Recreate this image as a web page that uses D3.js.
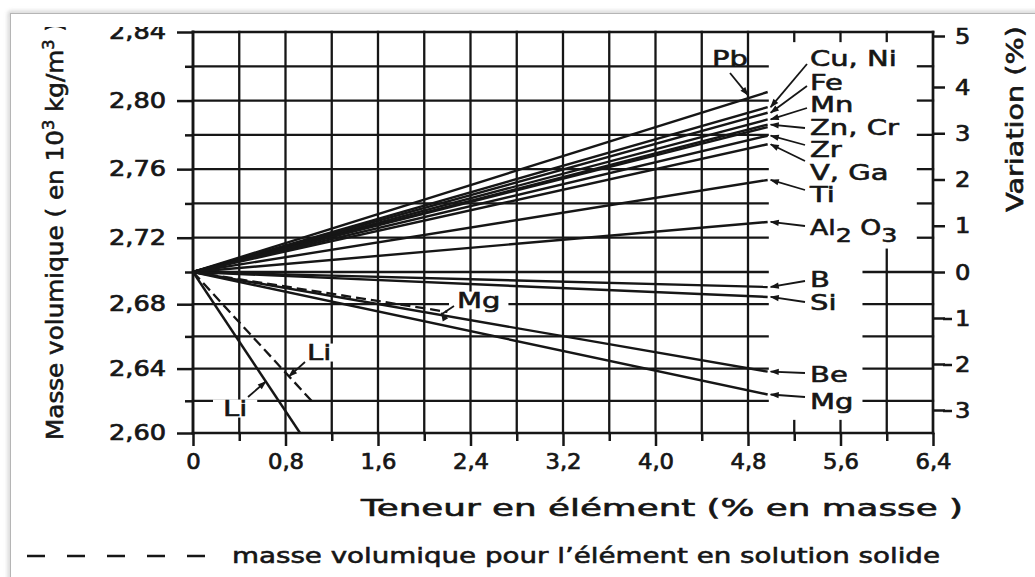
<!DOCTYPE html>
<html><head><meta charset="utf-8">
<script src="https://cdn.jsdelivr.net/npm/d3@7"></script>
<style>
body{margin:0;background:#fff}
svg{display:block}
text{font-family:"DejaVu Sans",sans-serif;fill:#161616}
</style>
</head><body>
<svg id="c" width="1035" height="577"></svg>
<script>
// ---------- data ----------
const xTicks = [0, 0.8, 1.6, 2.4, 3.2, 4.0, 4.8, 5.6, 6.4];
const xTickLabels = ["0", "0,8", "1,6", "2,4", "3,2", "4,0", "4,8", "5,6", "6,4"];
const xMinorTicks = [0.4, 1.2, 2.0, 2.8, 3.6, 4.4, 5.2, 6.0];
const yTicks = [2.60, 2.64, 2.68, 2.72, 2.76, 2.80, 2.84];
const yTickLabels = ["2,60", "2,64", "2,68", "2,72", "2,76", "2,80", "2,84"];
const yMinorTicks = [2.62, 2.66, 2.70, 2.74, 2.78, 2.82];
const rightTicks = [-3, -2, -1, 0, 1, 2, 3, 4, 5];
const rightTickLabels = ["3", "2", "1", "0", "1", "2", "3", "4", "5"];

// solid lines: density of the alloy (start at 0 % / 2,70)
const solidNames = ["Pb", "Cu, Ni", "Fe", "Mn", "Zn", "Cr", "Zr", "V, Ga", "Ti", "Al2O3", "B", "Si", "Be", "Mg", "Li"];
const solidXEnd = [4.97, 4.97, 4.97, 4.97, 4.97, 4.97, 4.97, 4.97, 4.97, 4.97, 4.97, 4.97, 4.97, 4.97, 0.926];
const solidDensityEnd = [2.805, 2.7962, 2.7929, 2.789, 2.786, 2.7845, 2.7795, 2.7745, 2.7537, 2.7292, 2.6907, 2.6845, 2.6381, 2.6239, 2.600];
// dashed lines: element in solid solution
const dashedNames = ["Mg", "Li"];
const dashedXEnd = [2.2, 1.03];
const dashedDensityEnd = [2.6752, 2.6196];
const startX = 0, startDensity = 2.70;
const gridEnd = 4.97;

// ---------- scales ----------
const svg = d3.select("#c");
const x = d3.scaleLinear().domain([0, 6.4]).range([193, 933]);
const y = d3.scaleLinear().domain([2.60, 2.70, 2.84]).range([433, 272, 32]);
const yR = d3.scaleLinear().domain([-3, 0, 4, 5]).range([410, 272, 87, 36]);

// outer frame of the picture
const defs = svg.append("defs");
const f = defs.append("filter").attr("id", "sh").attr("x", "-5%").attr("y", "-5%").attr("width", "110%").attr("height", "110%");
f.append("feGaussianBlur").attr("stdDeviation", 2);
svg.append("rect").attr("x", 10).attr("y", 13).attr("width", 1040).attr("height", 600)
  .attr("fill", "none").attr("stroke", "#999").attr("stroke-width", 3).attr("filter", "url(#sh)").attr("opacity", 0.6);
svg.append("rect").attr("x", 10.5).attr("y", 13.5).attr("width", 1040).attr("height", 600)
  .attr("fill", "#fff").attr("stroke", "#b5b5b5").attr("stroke-width", 1);

defs.append("clipPath").attr("id", "clipTop").append("rect").attr("x", 11).attr("y", 27).attr("width", 1030).attr("height", 560);
defs.append("marker").attr("id", "arr").attr("viewBox", "0 0 10 10").attr("refX", 9).attr("refY", 5)
  .attr("markerWidth", 7).attr("markerHeight", 5).attr("orient", "auto")
  .append("path").attr("d", "M0,1.5 L10,5 L0,8.5 Z").attr("fill", "#161616");

const g = svg.append("g").attr("clip-path", "url(#clipTop)");
const ink = "#161616";

function seg(x1, y1, x2, y2, w) {
  g.append("line").attr("x1", x1).attr("y1", y1).attr("x2", x2).attr("y2", y2)
    .attr("stroke", ink).attr("stroke-width", w).attr("stroke-linecap", "square");
}

// ---------- grid ----------
const vGrid = d3.range(1, 13).map(i => +(i * 0.4).toFixed(1));
vGrid.forEach(v => seg(x(v), y(2.60), x(v), y(2.84), 2.3));
const hGrid = d3.range(1, 12).map(i => +(2.60 + i * 0.02).toFixed(2));
hGrid.forEach(d => seg(x(0), y(d), x(gridEnd), y(d), 2.3));
// right block: lower part grid and stubs
hGrid.filter(d => d <= 2.70).forEach(d => seg(x(5.8), y(d), x(6.4), y(d), 2.3));
hGrid.filter(d => d > 2.70).forEach(d => seg(x(6.27), y(d), x(6.4), y(d), 2.3));
seg(x(6.0), y(2.713), x(6.0), y(2.60), 2.3);
[5.2, 5.6, 6.0].forEach(v => seg(x(v), y(2.84), x(v), y(2.84) + 9, 2.3));
[5.2, 5.6].forEach(v => seg(x(v), y(2.60), x(v), y(2.60) - 12, 2.3));

// frame
seg(x(0), y(2.84), x(6.4), y(2.84), 2.7);
seg(x(0), y(2.60), x(6.4), y(2.60), 2.7);
seg(x(0), y(2.60), x(0), y(2.84), 2.9);
seg(x(6.4), y(2.60), x(6.4), y(2.84), 2.7);

// ---------- axes ----------
const font = "DejaVu Sans";
function widen(sel, k) {
  sel.each(function () {
    const L = this.getComputedTextLength();
    d3.select(this).attr("textLength", L * k).attr("lengthAdjust", "spacingAndGlyphs");
  });
}
const yAxis = d3.axisLeft(y).tickValues(yTicks).tickFormat((d, i) => yTickLabels[i]).tickSize(16).tickPadding(11);
const yg = g.append("g").attr("transform", `translate(${x(0)},0)`).call(yAxis);
const yMinor = d3.axisLeft(y).tickValues(yMinorTicks).tickFormat("").tickSize(8);
const ym = g.append("g").attr("transform", `translate(${x(0)},0)`).call(yMinor);
const xAxis = d3.axisBottom(x).tickValues(xTicks).tickFormat((d, i) => xTickLabels[i]).tickSize(13).tickPadding(8);
const xg = g.append("g").attr("transform", `translate(0,${y(2.60)})`).call(xAxis);
const xMinor = d3.axisBottom(x).tickValues(xMinorTicks).tickFormat("").tickSize(8);
const xm = g.append("g").attr("transform", `translate(0,${y(2.60)})`).call(xMinor);
const rAxis = d3.axisRight(yR).tickValues(rightTicks).tickFormat("").tickSize(12);
const rg = g.append("g").attr("transform", `translate(${x(6.4)},0)`).call(rAxis);
[yg, ym, xg, xm, rg].forEach(a => {
  a.select(".domain").remove();
  a.selectAll(".tick line").attr("stroke", ink).attr("stroke-width", 2.5);
});
yg.selectAll(".tick text").attr("font-family", font).attr("font-size", 21).attr("fill", ink)
  .attr("stroke", ink).attr("stroke-width", 0.7);
widen(yg.selectAll(".tick text"), 1.22);
xg.selectAll(".tick text").attr("font-family", font).attr("font-size", 21).attr("fill", ink)
  .attr("stroke", ink).attr("stroke-width", 0.7);
widen(xg.selectAll(".tick text"), 1.08);
// right labels, minus sign placed before the digit
rightTicks.forEach((v, i) => {
  const t = g.append("text").attr("x", 955).attr("y", yR(v)).attr("dy", "0.36em")
    .attr("font-size", 21).attr("stroke", ink).attr("stroke-width", 0.7).text(rightTickLabels[i]);
  widen(t, 1.15);
  if (v < 0) {
    g.append("line").attr("x1", 943).attr("x2", 952).attr("y1", yR(v) + 1).attr("y2", yR(v) + 1)
      .attr("stroke", ink).attr("stroke-width", 2.5);
  }
});

// ---------- data lines ----------
solidNames.forEach((n, i) => {
  g.append("line").attr("x1", x(startX)).attr("y1", y(startDensity))
    .attr("x2", x(solidXEnd[i])).attr("y2", y(solidDensityEnd[i]))
    .attr("stroke", ink).attr("stroke-width", 2.4);
});
dashedNames.forEach((n, i) => {
  g.append("line").attr("x1", x(startX)).attr("y1", y(startDensity))
    .attr("x2", x(dashedXEnd[i])).attr("y2", y(dashedDensityEnd[i]))
    .attr("stroke", ink).attr("stroke-width", 2.3).attr("stroke-dasharray", "10,5");
});

function onSolid(name, xv) {
  const i = solidNames.indexOf(name);
  const d = startDensity + (solidDensityEnd[i] - startDensity) * (xv - startX) / (solidXEnd[i] - startX);
  return [x(xv), y(d)];
}
function onDashed(name, xv) {
  const i = dashedNames.indexOf(name);
  const d = startDensity + (dashedDensityEnd[i] - startDensity) * (xv - startX) / (dashedXEnd[i] - startX);
  return [x(xv), y(d)];
}

// ---------- labels ----------
const labelFS = 21;
function label(txt, lx, ly, opts = {}) {
  const t = g.append("text").attr("x", lx).attr("y", ly).attr("dy", "0.36em")
    .attr("font-size", opts.fs || labelFS).attr("stroke", ink).attr("stroke-width", 0.6);
  if (Array.isArray(txt)) {
    txt.forEach(p => {
      const ts = t.append("tspan").text(p.t);
      if (p.sub) ts.attr("baseline-shift", "-35%").attr("font-size", (opts.fs || labelFS) * 0.95);
    });
  } else t.text(txt);
  widen(t, opts.k || 1.38);
  return t;
}
function whiteBox(t, pad) {
  const b = t.node().getBBox();
  const r = g.append("rect").attr("x", b.x - pad).attr("y", b.y + 3).attr("width", b.width + 2 * pad)
    .attr("height", b.height - 6).attr("fill", "#fff");
  g.node().insertBefore(r.node(), t.node());
}
function leader(pts) {
  g.append("path").attr("d", d3.line()(pts)).attr("fill", "none").attr("stroke", ink)
    .attr("stroke-width", 1.8).attr("marker-end", "url(#arr)");
}
const endX = 4.97;
const tipX = x(endX) + 3;
function tipOf(name) { const p = onSolid(name, endX); return [tipX, p[1]]; }

label("Pb", 712, 58);
leader([[730, 73], onSolid("Pb", 4.8).map((v, j) => j ? v - 3 : v)]);
label("Cu, Ni", 810, 58);
leader([[807, 64], tipOf("Cu, Ni")]);
label("Fe", 810, 82);
leader([[807, 86], tipOf("Fe")]);
label("Mn", 810, 104);
leader([[807, 108], tipOf("Mn")]);
label("Zn, Cr", 810, 127);
leader([[805, 128], tipOf("Zn")]);
label("Zr", 810, 149);
leader([[805, 145], tipOf("Zr")]);
label("V, Ga", 810, 172);
leader([[805, 161], tipOf("V, Ga")]);
label("Ti", 810, 194);
leader([[805, 190], tipOf("Ti")]);
label([{t: "Al"}, {t: "2", sub: true}, {t: " O"}, {t: "3", sub: true}], 810, 227, {k: 1.27});
leader([[805, 226], tipOf("Al2O3")]);
label("B", 810, 279);
leader([[805, 281], tipOf("B")]);
label("Si", 810, 302);
leader([[805, 302], tipOf("Si")]);
label("Be", 810, 374);
leader([[805, 373], tipOf("Be")]);
label("Mg", 810, 401);
leader([[805, 397], tipOf("Mg")]);

const mgMid = label("Mg", 457, 300);
whiteBox(mgMid, 8);
leader([[454, 306], [442, 314], onDashed("Mg", 2.2).map((v, j) => j ? v + 1 : v - 6)]);
const li1 = label("Li", 223, 408);
whiteBox(li1, 10);
leader([[248, 397], onSolid("Li", 0.63)]);
const li2 = label("Li", 307, 352);
whiteBox(li2, 4);
leader([[305, 362], onDashed("Li", 0.83)]);

// ---------- titles ----------
const yt = g.append("text").attr("transform", "translate(63,440) rotate(-90)").attr("text-anchor", "start")
  .attr("font-size", 23).attr("stroke", ink).attr("stroke-width", 0.6);
yt.append("tspan").text("Masse volumique ( en 10");
yt.append("tspan").attr("baseline-shift", "super").attr("font-size", 15).text("3");
yt.append("tspan").text(" kg/m");
yt.append("tspan").attr("baseline-shift", "super").attr("font-size", 15).text("3");
yt.append("tspan").text(" )");
yt.attr("textLength", 418).attr("lengthAdjust", "spacingAndGlyphs");

g.append("text").attr("transform", "translate(1023,212) rotate(-90)").attr("text-anchor", "start")
  .attr("font-size", 23).attr("stroke", ink).attr("stroke-width", 0.6)
  .text("Variation (%)").attr("textLength", 186).attr("lengthAdjust", "spacingAndGlyphs");

g.append("text").attr("x", 361).attr("y", 516).attr("font-size", 23).attr("stroke", ink).attr("stroke-width", 0.6)
  .text("Teneur en élément (% en masse )").attr("textLength", 602).attr("lengthAdjust", "spacingAndGlyphs");

// legend
g.append("line").attr("x1", 27).attr("x2", 205).attr("y1", 556).attr("y2", 556)
  .attr("stroke", ink).attr("stroke-width", 2.4).attr("stroke-dasharray", "18,22");
g.append("text").attr("x", 232).attr("y", 563).attr("font-size", 22).attr("stroke", ink).attr("stroke-width", 0.6)
  .text("masse volumique pour l’élément en solution solide").attr("textLength", 708).attr("lengthAdjust", "spacingAndGlyphs");
</script>
</body></html>
